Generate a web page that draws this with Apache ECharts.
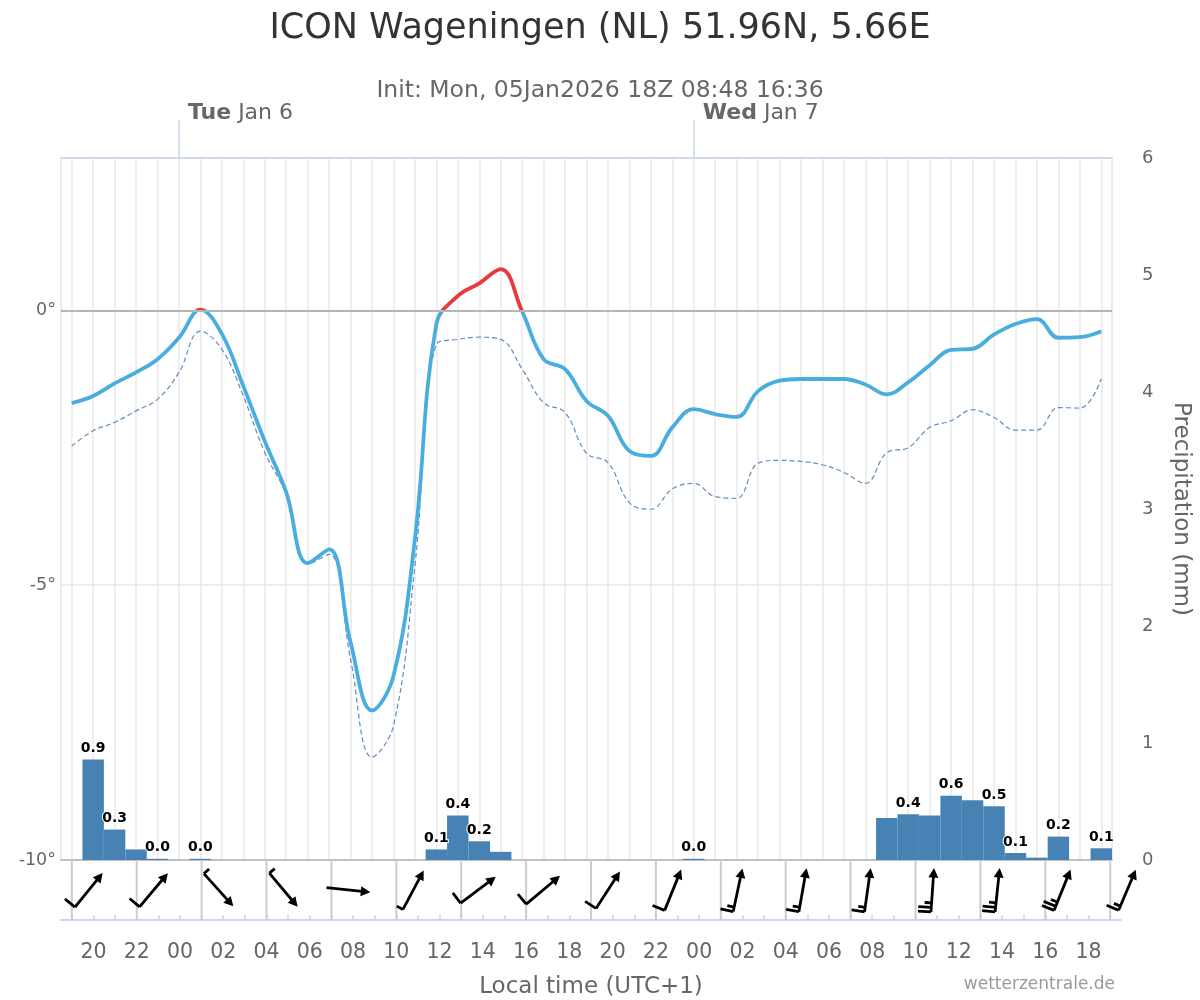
<!DOCTYPE html>
<html>
<head>
<meta charset="utf-8">
<title>ICON Wageningen</title>
<script src="https://cdn.jsdelivr.net/npm/echarts@6.0.0/dist/echarts.min.js"></script>
<style>
  html, body { margin: 0; padding: 0; background: #fff; }
  #chart { width: 1200px; height: 1000px; }
</style>
</head>
<body>
<div id="chart"></div>
<script>
// hours relative to Tue Jan 6 00:00 local time (UTC+1)
const hours = [-5, -4, -3, -2, -1, 0, 1, 2, 3, 4, 5, 6, 7, 8, 9, 10, 11, 12, 13, 14, 15, 16, 17, 18, 19,
  20, 21, 22, 23, 24, 25, 26, 27, 28, 29, 30, 31, 32, 33, 34, 35, 36, 37, 38, 39, 40, 41, 42, 43];

const temp = [-1.69, -1.56, -1.33, -1.13, -0.89, -0.50, 0.01, -0.43, -1.38, -2.38, -3.31, -4.60, -4.35,
  -6.04, -7.28, -6.65, -4.16, -0.25, 0.26, 0.49, 0.75, -0.02, -0.89, -1.07, -1.65, -1.92, -2.56, -2.65,
  -2.13, -1.80, -1.89, -1.94, -1.47, -1.28, -1.25, -1.25, -1.25, -1.35, -1.53, -1.31, -1.00, -0.72, -0.70,
  -0.44, -0.25, -0.16, -0.50, -0.49, -0.38];

const dewpoint = [-2.47, -2.19, -2.04, -1.83, -1.62, -1.13, -0.38, -0.71, -1.56, -2.59, -3.35, -4.62, -4.44,
  -6.35, -8.13, -7.56, -4.65, -0.62, -0.53, -0.49, -0.53, -1.07, -1.68, -1.86, -2.60, -2.77, -3.50, -3.62,
  -3.25, -3.15, -3.39, -3.42, -2.78, -2.73, -2.75, -2.81, -2.95, -3.15, -2.59, -2.50, -2.13, -2.01, -1.81,
  -1.95, -2.18, -2.18, -1.77, -1.78, -1.25];

const precip = [0, 0.86, 0.26, 0.09, 0.01, 0, 0.01, 0, 0, 0, 0, 0, 0, 0, 0, 0, 0, 0.09, 0.38, 0.16, 0.07,
  0, 0, 0, 0, 0, 0, 0, 0, 0.01, 0, 0, 0, 0, 0, 0, 0, 0, 0.36, 0.39, 0.38, 0.55, 0.51, 0.46, 0.06, 0.02,
  0.2, 0, 0.1];

// wind every 3 hours: direction the wind comes from (deg) and speed (kt)
const windHours = [-5, -2, 1, 4, 7, 10, 13, 16, 19, 22, 25, 28, 31, 34, 37, 40, 43];
const windDir = [219, 220, 318, 320, 276, 208, 233, 230, 213, 202, 192, 190, 188, 184, 186, 202, 203];
const windKt = [10, 10, 5, 5, 2, 5, 10, 10, 10, 10, 15, 15, 15, 25, 25, 25, 15];

const labelHours = [-4, -2, 0, 2, 4, 6, 8, 10, 12, 14, 16, 18, 20, 22, 24, 26, 28, 30, 32, 34, 36, 38, 40, 42];
const hourLabels = ['20', '22', '00', '02', '04', '06', '08', '10', '12', '14', '16', '18',
  '20', '22', '00', '02', '04', '06', '08', '10', '12', '14', '16', '18'];

const dayHours = [0, 24];
const dayNames = ['Tue', 'Wed'];
const dayDates = ['Jan 6', 'Jan 7'];

const xMin = -5.5, xMax = 43.5;

const tempData = hours.map((h, i) => [h, temp[i]]);
const dewData = hours.map((h, i) => [h, dewpoint[i]]);
const precipData = hours.map((h, i) => [h, precip[i]]).filter(d => d[1] > 0);
const windData = windHours.map((h, i) => [h, windDir[i], windKt[i]]);

function renderBarb(params, api) {
  const h = api.value(0), dir = api.value(1), kt = api.value(2);
  const base = api.coord([h, 0.5]);
  const cs = params.coordSys;
  const cx = base[0] + 17, cy = base[1];
  const b = (dir + 180) * Math.PI / 180;
  const ux = Math.sin(b), uy = -Math.cos(b);
  const px = uy, py = -ux;
  const L = 44, headLen = 9.5, headW = 5;
  const tx = cx - ux * L / 2, ty = cy - uy * L / 2;
  const hx = cx + ux * L / 2, hy = cy + uy * L / 2;
  const ink = { stroke: '#000', lineWidth: 2.8, lineCap: 'butt' };
  const children = [{
    type: 'line',
    shape: { x1: base[0], y1: cs.y, x2: base[0], y2: cs.y + cs.height },
    style: { stroke: '#cccccc', lineWidth: 2 }
  }, {
    type: 'line',
    shape: { x1: tx, y1: ty, x2: hx - ux * headLen * 0.6, y2: hy - uy * headLen * 0.6 },
    style: ink
  }, {
    type: 'polygon',
    shape: {
      points: [[hx, hy],
        [hx - ux * headLen + px * headW, hy - uy * headLen + py * headW],
        [hx - ux * headLen - px * headW, hy - uy * headLen - py * headW]]
    },
    style: { fill: '#000' }
  }];
  const full = Math.floor(kt / 10);
  const half = kt % 10 >= 5 ? 1 : 0;
  for (let i = 0; i < full + half; i++) {
    const len = i < full ? 13 : 7;
    const sx = tx + ux * i * 4.5, sy = ty + uy * i * 4.5;
    children.push({
      type: 'line',
      shape: { x1: sx, y1: sy, x2: sx + px * len, y2: sy + py * len },
      style: ink
    });
  }
  return { type: 'group', children: children };
}

const chart = echarts.init(document.getElementById('chart'));
chart.setOption({
  animation: false,
  textStyle: { fontFamily: 'DejaVu Sans' },
  title: [{
    text: 'ICON Wageningen (NL) 51.96N, 5.66E',
    left: 'center', top: 6,
    textStyle: { fontSize: 35, fontWeight: 'normal', color: '#333' }
  }, {
    text: 'Init: Mon, 05Jan2026 18Z 08:48 16:36',
    left: 'center', top: 74,
    textStyle: { fontSize: 23.5, fontWeight: 'normal', color: '#666' }
  }, {
    text: 'wetterzentrale.de',
    right: 80, top: 971,
    textStyle: { fontSize: 17, fontWeight: 'normal', color: '#999' }
  }],
  grid: [
    { left: 61, right: 79, top: 158, height: 702, show: true, borderColor: '#ccd6eb', borderWidth: 1 },
    { left: 61, right: 79, top: 860, height: 60 }
  ],
  xAxis: [{
    gridIndex: 0, type: 'value', min: xMin, max: xMax, position: 'bottom',
    axisLine: { show: true, onZero: false, lineStyle: { color: '#c0c0c0', width: 2 } },
    axisTick: { show: false, customValues: hours },
    axisLabel: { show: false },
    splitLine: { show: true, customValues: hours, lineStyle: { color: '#e8e8e8', width: 1.5 } }
  }, {
    gridIndex: 1, type: 'value', min: xMin, max: xMax, position: 'bottom',
    axisLine: { show: true, onZero: false, lineStyle: { color: '#ccd6eb', width: 2 } },
    axisTick: { show: true, inside: true, length: 5, customValues: hours, lineStyle: { color: '#ccd6eb', width: 1.5 } },
    axisLabel: {
      customValues: labelHours, margin: 22, fontSize: 20.5, color: '#666',
      formatter: v => hourLabels[labelHours.indexOf(v)] || ''
    },
    splitLine: { show: false },
    name: 'Local time (UTC+1)', nameLocation: 'middle', nameGap: 56,
    nameTextStyle: { fontSize: 23, color: '#666' }
  }, {
    gridIndex: 0, type: 'value', min: xMin, max: xMax, position: 'top',
    axisLine: { show: true, onZero: false, lineStyle: { color: '#ccd6eb', width: 1.5 } },
    axisTick: { show: true, length: 38, customValues: dayHours, lineStyle: { color: '#ccd6eb', width: 1.5 } },
    axisLabel: {
      customValues: dayHours, margin: 34, align: 'left', padding: [0, 0, 0, 9],
      fontSize: 22, color: '#666',
      formatter: v => {
        const i = dayHours.indexOf(v);
        return i < 0 ? '' : '{b|' + dayNames[i] + '} ' + dayDates[i];
      },
      rich: { b: { fontWeight: 'bold', fontSize: 22, color: '#666' } }
    },
    splitLine: { show: false }
  }],
  yAxis: [{
    gridIndex: 0, type: 'value', min: -10, max: 2.77, interval: 5, position: 'left',
    axisLine: { show: false, onZero: false }, axisTick: { show: false },
    axisLabel: {
      fontSize: 17.5, color: '#666', margin: 5,
      formatter: v => Math.abs(v % 5) < 1e-9 ? v + '°' : ''
    },
    splitLine: { show: true, showMinLine: false, showMaxLine: false, lineStyle: { color: '#e8e8e8', width: 1.5 } }
  }, {
    gridIndex: 0, type: 'value', min: 0, max: 6, interval: 1, position: 'right',
    axisLine: { show: false, onZero: false }, axisTick: { show: false },
    axisLabel: { fontSize: 18, color: '#666', margin: 30 },
    splitLine: { show: false },
    name: 'Precipitation (mm)', nameLocation: 'middle', nameRotate: -90, nameGap: 57,
    nameTextStyle: { fontSize: 23, color: '#666' }
  }, {
    gridIndex: 1, type: 'value', min: 0, max: 1, show: false
  }],
  visualMap: [{
    type: 'piecewise', show: false, seriesIndex: 2, dimension: 1,
    pieces: [{ min: -30, max: 0, color: '#4aaddf' }, { min: 0, max: 30, color: '#e8393b' }]
  }],
  series: [{
    name: 'Precipitation', type: 'bar', xAxisIndex: 0, yAxisIndex: 1,
    data: precipData, barWidth: '100%',
    itemStyle: { color: '#4682b4' },
    label: {
      show: true, position: 'top', distance: 1,
      fontSize: 14, fontWeight: 'bold', color: '#000',
      textBorderColor: '#fff', textBorderWidth: 2,
      padding: 3, backgroundColor: 'rgba(255,255,255,0)',
      formatter: p => p.value[1].toFixed(1)
    },
    labelLayout: { hideOverlap: true },
    z: 2
  }, {
    name: 'Dew point', type: 'line', xAxisIndex: 0, yAxisIndex: 0,
    data: dewData, smooth: 0.4, symbol: 'none',
    lineStyle: { color: '#5f8dc0', width: 1.2, type: [5, 3] },
    markLine: {
      silent: true, symbol: ['none', 'none'], label: { show: false },
      lineStyle: { color: '#b5b5b5', width: 2, type: 'solid' },
      data: [{ yAxis: 0 }]
    },
    z: 3
  }, {
    name: 'Temperature', type: 'line', xAxisIndex: 0, yAxisIndex: 0,
    data: tempData, smooth: 0.4, symbol: 'none',
    lineStyle: { width: 3.8 },
    z: 4
  }, {
    name: 'Wind', type: 'custom', xAxisIndex: 1, yAxisIndex: 2,
    data: windData, renderItem: renderBarb, clip: false, silent: true, z: 5
  }]
});
</script>
</body>
</html>
